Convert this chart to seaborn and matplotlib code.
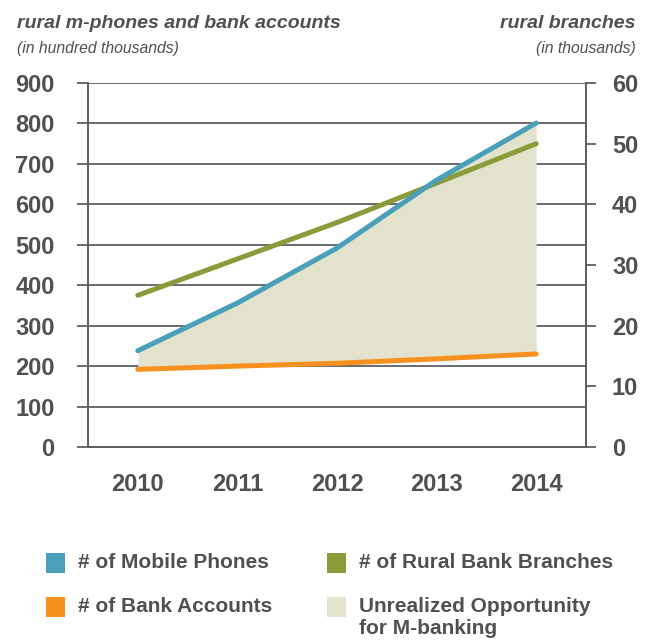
import matplotlib
matplotlib.use("Agg")
import matplotlib.pyplot as plt
import seaborn as sns
import pandas as pd
import numpy as np
from matplotlib.patches import Rectangle

years = ["2010", "2011", "2012", "2013", "2014"]
mobile_phones = [238, 356, 492, 660, 801]
bank_accounts = [192, 200, 207, 218, 230]
rural_branches = [25.0, 31.0, 37.0, 43.5, 50.0]

left_ticks = [0, 100, 200, 300, 400, 500, 600, 700, 800, 900]
right_ticks = [0, 10, 20, 30, 40, 50, 60]

BLUE = "#4a9fba"
GREEN = "#8a9c3a"
ORANGE = "#f7901e"
FILL = "#e3e3cd"
TXT = "#505052"
GRID = "#5e5f61"

sns.set_theme(style="white")
plt.rcParams["font.family"] = ["Liberation Sans", "DejaVu Sans"]

df = pd.DataFrame({"x": np.arange(len(years)), "year": years,
                   "mobile": mobile_phones, "accounts": bank_accounts,
                   "branches": rural_branches})

W, H = 649, 643
fig = plt.figure(figsize=(W/100, H/100), dpi=100)
ax = fig.add_axes([88/W, 1-447/H, (586-88)/W, (447-83)/H])
ax2 = ax.twinx()

ax.fill_between(df["x"], df["accounts"], df["mobile"], color=FILL, zorder=2, linewidth=0)
sns.lineplot(data=df, x="x", y="accounts", ax=ax, color=ORANGE, linewidth=3.6, zorder=3)
sns.lineplot(data=df, x="x", y="branches", ax=ax2, color=GREEN, linewidth=3.6, zorder=3)
# mobile phones drawn on top layer, in left-axis data units
sns.lineplot(data=df, x="x", y="mobile", ax=ax2, color=BLUE, linewidth=3.6, zorder=4,
             transform=ax.transData)

ax.set_xlim(-0.5, len(years) - 0.5)
ax2.set_xlim(-0.5, len(years) - 0.5)
ax.set_ylim(0, 900)
ax2.set_ylim(0, 60)
ax.set_yticks(left_ticks)
ax2.set_yticks(right_ticks)
ax.set_xticks(np.arange(-0.5, len(years)))
ax.set_xticklabels([])
ax.set_xticks(np.arange(len(years)), minor=True)
ax.set_xticklabels(years, minor=True)

ax.grid(axis="y", color=GRID, linewidth=1.3, zorder=0)
ax.set_axisbelow(True)
for a in (ax, ax2):
    a.set_xlabel("")
    a.set_ylabel("")
    for s in a.spines.values():
        s.set_color(GRID)
        s.set_linewidth(1.3)
    a.spines["top"].set_visible(False)

ax.tick_params(axis="y", which="major", direction="out", length=8, width=1.3, color=GRID,
               labelsize=17, labelcolor=TXT, pad=16)
ax.tick_params(axis="x", which="major", direction="out", length=9.4, width=1.3, color=GRID)
ax.tick_params(axis="x", which="minor", length=0, labelsize=17, labelcolor=TXT, pad=19)
ax2.tick_params(axis="y", direction="out", length=7.2, width=1.3, color=GRID,
                labelsize=17, labelcolor=TXT, pad=11.5)
for lab in ax.get_yticklabels() + ax2.get_yticklabels() + ax.get_xticklabels(minor=True):
    lab.set_fontweight("bold")

fig.text(17/W, 1-22/H, "rural m-phones and bank accounts", fontsize=14, style="italic",
         fontweight="bold", color=TXT, va="center_baseline", ha="left")
fig.text(17/W, 1-48/H, "(in hundred thousands)", fontsize=11.3, style="italic",
         color=TXT, va="center", ha="left")
fig.text(636/W, 1-22/H, "rural branches", fontsize=14, style="italic",
         fontweight="bold", color=TXT, va="center_baseline", ha="right")
fig.text(636/W, 1-48/H, "(in thousands)", fontsize=11.3, style="italic",
         color=TXT, va="center", ha="right")

legend_items = [
    (BLUE, "# of Mobile Phones", 46, 553, 78),
    (ORANGE, "# of Bank Accounts", 46, 597, 78),
    (GREEN, "# of Rural Bank Branches", 327, 553, 359),
    (FILL, "Unrealized Opportunity\nfor M-banking", 327, 597, 359),
]
for color, label, sx, sy, tx in legend_items:
    fig.patches.append(Rectangle((sx/W, 1-(sy+20)/H), 19/W, 20/H, transform=fig.transFigure,
                                 facecolor=color, edgecolor="none"))
    fig.text(tx/W, 1-(sy)/H, label, fontsize=15, fontweight="bold", color=TXT,
             va="top", ha="left", linespacing=1.18)

fig.savefig("out.png", dpi=100)
